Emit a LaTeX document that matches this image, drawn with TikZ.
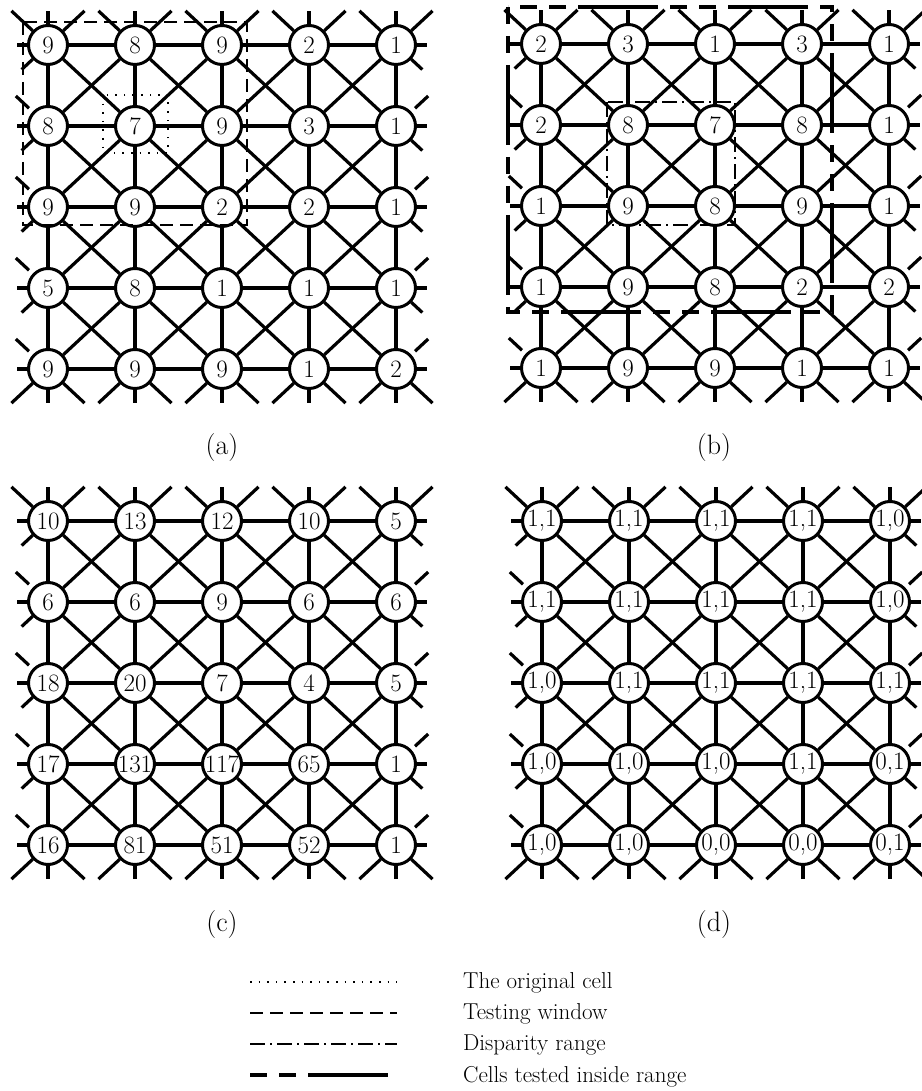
\documentclass[tikz,border=0pt]{standalone}
\usetikzlibrary{calc}
\tikzset{
  cell/.style={circle,draw,line width=3pt,fill=white,minimum size=39pt,inner sep=0pt,font=\fontsize{25}{25}\selectfont},
  link/.style={line width=3.2pt},
  testwin/.style={line width=2.2pt,dash pattern=on 13pt off 7pt},
  origcell/.style={line width=1.6pt,dash pattern=on 1.6pt off 7pt},
  disprange/.style={line width=2pt,dash pattern=on 15pt off 5pt on 2pt off 5pt},
  tested/.style={line width=3.4pt,dash pattern=on 17pt off 12pt on 17pt off 12pt on 80pt off 12pt},
  caplabel/.style={font=\fontsize{28}{28}\selectfont},
  legtext/.style={font=\fontsize{23}{23}\selectfont,anchor=base west,inner sep=0pt},
}
\newcommand\gridpic[4]{%
  \foreach \lab [count=\k from 0] in {#4} {%
    \pgfmathtruncatemacro\ci{mod(\k,5)}%
    \pgfmathtruncatemacro\rj{\k/5}%
    \node[cell] (#1-\ci-\rj) at (#2+87*\ci, #3-81*\rj) {\lab};
  }
  \foreach \i in {0,...,4} {\foreach \j in {0,...,4} {%
    \pgfmathtruncatemacro\ii{\i+1}%
    \pgfmathtruncatemacro\jj{\j+1}%
    \ifnum\i<4 \draw[link] (#1-\i-\j) -- (#1-\ii-\j);\fi
    \ifnum\j<4 \draw[link] (#1-\i-\j) -- (#1-\i-\jj);\fi
    \ifnum\i<4 \ifnum\j<4
      \draw[link] (#1-\i-\j) -- (#1-\ii-\jj);
      \draw[link] (#1-\ii-\j) -- (#1-\i-\jj);
    \fi\fi
    \ifnum\j=0
      \draw[link] (#1-\i-\j.90) -- ($(#1-\i-\j.center)+(90:34)$);
      \draw[link] (#1-\i-\j.137) -- ($(#1-\i-\j.center)+(137:50)$);
      \draw[link] (#1-\i-\j.43) -- ($(#1-\i-\j.center)+(43:50)$);
    \fi
    \ifnum\j=4
      \draw[link] (#1-\i-\j.270) -- ($(#1-\i-\j.center)+(270:34)$);
      \draw[link] (#1-\i-\j.223) -- ($(#1-\i-\j.center)+(223:50)$);
      \draw[link] (#1-\i-\j.317) -- ($(#1-\i-\j.center)+(317:50)$);
    \fi
    \ifnum\i=0
      \draw[link] (#1-\i-\j.180) -- ($(#1-\i-\j.center)+(180:31)$);
      \ifnum\j>0 \draw[link] ($(#1-\i-\j.center)+(137:26)$) -- ($(#1-\i-\j.center)+(137:44)$);\fi
      \ifnum\j<4 \draw[link] (#1-\i-\j.223) -- ($(#1-\i-\j.center)+(223:36)$);\fi
    \fi
    \ifnum\i=4
      \draw[link] (#1-\i-\j.0) -- ($(#1-\i-\j.center)+(0:31)$);
      \ifnum\j>0 \draw[link] ($(#1-\i-\j.center)+(43:26)$) -- ($(#1-\i-\j.center)+(43:44)$);\fi
      \ifnum\j<4 \draw[link] (#1-\i-\j.317) -- ($(#1-\i-\j.center)+(317:36)$);\fi
    \fi
  }}%
}
\begin{document}
\begin{tikzpicture}[x=1pt,y=1pt]
  \fill[white] (0,0) rectangle (921,1091);
  \useasboundingbox (0,0) rectangle (921,1091);
  % (a)
  \gridpic{a}{48}{1046}{9,8,9,2,1, 8,7,9,3,1, 9,9,2,2,1, 5,8,1,1,1, 9,9,9,1,2}
  \draw[testwin] (23,1069) rectangle (247,866);
  \draw[origcell] (103,996) rectangle (168,938);
  \node[caplabel] (capa) at (222,643) {(a)};
  % (b)
  \gridpic{b}{541}{1047}{2,3,1,3,1, 2,8,7,8,1, 1,9,8,9,1, 1,9,8,2,2, 1,9,9,1,1}
  \draw[tested] (508,1084) rectangle (832,779);
  \draw[disprange] (607,989) rectangle (735,866);
  \node[caplabel] (capb) at (714,643) {(b)};
  % (c)
  \gridpic{c}{48}{570}{10,13,12,10,5, 6,6,9,6,6, 18,20,7,4,5, 17,131,117,65,1, 16,81,51,52,1}
  \node[caplabel] (capc) at (222,166) {(c)};
  % (d)
  \gridpic{d}{542}{570}{{1,1},{1,1},{1,1},{1,1},{1,0}, {1,1},{1,1},{1,1},{1,1},{1,0}, {1,0},{1,1},{1,1},{1,1},{1,1}, {1,0},{1,0},{1,0},{1,1},{0,1}, {1,0},{1,0},{0,0},{0,0},{0,1}}
  \node[caplabel] (capd) at (714,166) {(d)};
  % legend
  \coordinate (l1a) at (250,109); \coordinate (l1b) at (397,109);
  \coordinate (l2a) at (250,78);  \coordinate (l2b) at (397,78);
  \coordinate (l3a) at (250,47);  \coordinate (l3b) at (397,47);
  \coordinate (l4a) at (250,16);  \coordinate (l4b) at (397,16);
  \draw[origcell] (l1a) -- (l1b);
  \draw[testwin] (l2a) -- (l2b);
  \draw[disprange] (l3a) -- (l3b);
  \draw[tested] (l4a) -- (l4b);
  \node[legtext] (t1) at (463,102) {The original cell};
  \node[legtext] (t2) at (463,71) {Testing window};
  \node[legtext] (t3) at (463,40) {Disparity range};
  \node[legtext] (t4) at (463,9) {Cells tested inside range};
\end{tikzpicture}
\end{document}
